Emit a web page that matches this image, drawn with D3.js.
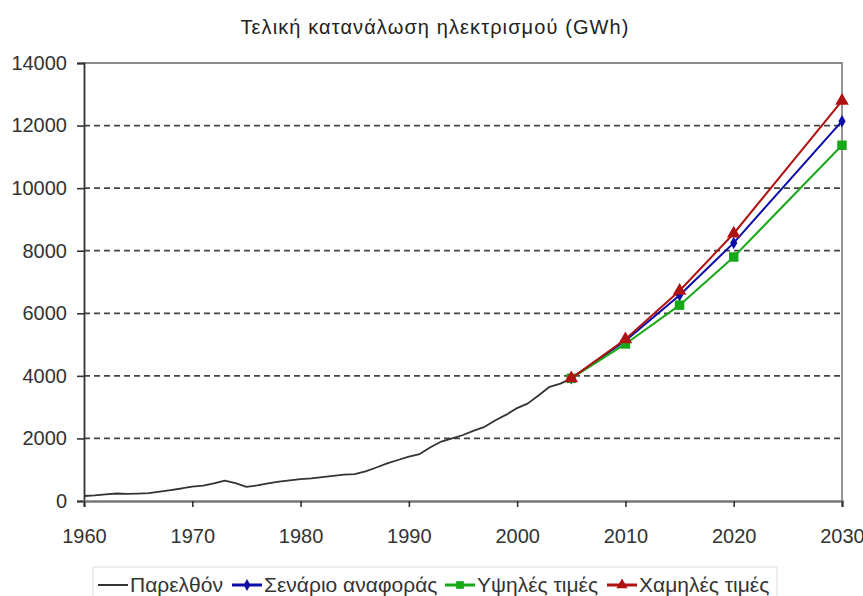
<!DOCTYPE html>
<meta charset="utf-8">
<style>
  body { margin: 0; background: #fff; }
  svg { font-family: "Liberation Sans", Arial, sans-serif; }
</style>
<script src="https://d3js.org/d3.v7.min.js"></script>
<div id="chart"></div>
<script>
// historic consumption (GWh)
var pastYears = [1960,1961,1962,1963,1964,1965,1966,1967,1968,1969,
                 1970,1971,1972,1973,1974,1975,1976,1977,1978,1979,
                 1980,1981,1982,1983,1984,1985,1986,1987,1988,1989,
                 1990,1991,1992,1993,1994,1995,1996,1997,1998,1999,
                 2000,2001,2002,2003,2004,2005];
var pastValues = [160,180,210,240,225,235,250,300,350,400,
                  460,490,560,650,570,450,500,560,620,660,
                  700,720,760,800,840,860,950,1070,1200,1310,
                  1420,1500,1720,1900,2000,2110,2250,2370,2580,2760,
                  2970,3120,3380,3650,3750,3920];

// scenarios
var scenarioYears = [2005, 2010, 2015, 2020, 2030];
var referenceValues = [3920, 5120, 6580, 8250, 12140];
var highPriceValues = [3920, 5020, 6260, 7800, 11370];
var lowPriceValues  = [3920, 5170, 6720, 8550, 12790];

var yTicks = [0, 2000, 4000, 6000, 8000, 10000, 12000, 14000];
var xTicks = [1960, 1970, 1980, 1990, 2000, 2010, 2020, 2030];

var seriesNames = ["Παρελθόν", "Σενάριο αναφοράς", "Υψηλές τιμές", "Χαμηλές τιμές"];
var title = "Τελική κατανάλωση ηλεκτρισμού (GWh)";

var width = 863, height = 596;
var plotLeft = 84, plotRight = 842, plotTop = 63, plotBottom = 501;

var svg = d3.select("#chart").append("svg")
    .attr("width", width)
    .attr("height", height);

var x = d3.scaleLinear().domain([1960, 2030]).range([plotLeft, plotRight]);
var y = d3.scaleLinear().domain([0, 14000]).range([plotBottom, plotTop]);

// title
svg.append("text")
    .attr("x", 435)
    .attr("y", 34)
    .attr("text-anchor", "middle")
    .attr("font-size", "20px")
    .attr("letter-spacing", "1.1px")
    .attr("fill", "#222")
    .text(title);

// dashed gridlines
svg.append("g")
  .selectAll("line")
  .data(yTicks.filter(function(d){ return d > 0 && d < 14000; }))
  .enter().append("line")
    .attr("x1", plotLeft).attr("x2", plotRight)
    .attr("y1", function(d){ return y(d); })
    .attr("y2", function(d){ return y(d); })
    .attr("stroke", "#444")
    .attr("stroke-width", 1.8)
    .attr("stroke-dasharray", "6,4");

// plot border top and right
svg.append("path")
    .attr("d", "M" + plotLeft + "," + plotTop + "H" + plotRight + "V" + plotBottom)
    .attr("fill", "none")
    .attr("stroke", "#666")
    .attr("stroke-width", 1.4);

// y axis
var yAxis = svg.append("g")
    .attr("transform", "translate(" + plotLeft + ",0)")
    .call(d3.axisLeft(y).tickValues(yTicks).tickSize(7).tickPadding(10).tickFormat(d3.format("d")));
// x axis
var xAxis = svg.append("g")
    .attr("transform", "translate(0," + plotBottom + ")")
    .call(d3.axisBottom(x).tickValues(xTicks).tickSize(6).tickPadding(22).tickFormat(d3.format("d")));

[yAxis, xAxis].forEach(function(a) {
  a.select(".domain").attr("stroke", "#333").attr("stroke-width", 1.8);
  a.selectAll(".tick line").attr("stroke", "#333").attr("stroke-width", 1.6);
  a.selectAll(".tick text").attr("font-size", "20px").attr("fill", "#333")
    .attr("font-family", "\"Liberation Sans\", Arial, sans-serif");
});
xAxis.select(".domain").attr("stroke", "#777").attr("stroke-width", 2.5);

var line = d3.line()
    .x(function(d){ return x(d[0]); })
    .y(function(d){ return y(d[1]); });

var pastData = d3.zip(pastYears, pastValues);
svg.append("path")
    .datum(pastData)
    .attr("d", line)
    .attr("fill", "none")
    .attr("stroke", "#333")
    .attr("stroke-width", 1.8)
    .attr("stroke-linejoin", "round");

var series = [
  {name: seriesNames[1], values: referenceValues, color: "#0c0ca8", symbol: d3.symbolDiamond, size: 45},
  {name: seriesNames[2], values: highPriceValues, color: "#17a817", symbol: d3.symbolSquare, size: 90},
  {name: seriesNames[3], values: lowPriceValues,  color: "#b01212", symbol: d3.symbolTriangle, size: 80}
];

series.forEach(function(s) {
  var data = d3.zip(scenarioYears, s.values);
  svg.append("path")
      .datum(data)
      .attr("d", line)
      .attr("fill", "none")
      .attr("stroke", s.color)
      .attr("stroke-width", 2);
  svg.append("g")
    .selectAll("path")
    .data(data)
    .enter().append("path")
      .attr("transform", function(d){ return "translate(" + x(d[0]) + "," + y(d[1]) + ")"; })
      .attr("d", d3.symbol().type(s.symbol).size(s.size))
      .attr("fill", s.color);
});

// legend
var legend = svg.append("g");
legend.append("rect")
    .attr("x", 93).attr("y", 567)
    .attr("width", 684).attr("height", 40)
    .attr("fill", "#fff")
    .attr("stroke", "#ddd");

var legendItems = [
  {name: seriesNames[0], color: "#333", symbol: null, x: 98},
  {name: seriesNames[1], color: series[0].color, symbol: series[0].symbol, size: 40, x: 232},
  {name: seriesNames[2], color: series[1].color, symbol: series[1].symbol, size: 60, x: 445},
  {name: seriesNames[3], color: series[2].color, symbol: series[2].symbol, size: 55, x: 607}
];

legendItems.forEach(function(it) {
  var g = legend.append("g").attr("transform", "translate(" + it.x + ",585)");
  g.append("line")
      .attr("x1", 0).attr("x2", 30)
      .attr("stroke", it.color)
      .attr("stroke-width", it.symbol ? 3 : 2);
  if (it.symbol) {
    g.append("path")
        .attr("transform", "translate(15,0)")
        .attr("d", d3.symbol().type(it.symbol).size(it.size))
        .attr("fill", it.color);
  }
  g.append("text")
      .attr("x", 32)
      .attr("y", 7)
      .attr("font-size", "21px")
      .attr("fill", "#333")
      .text(it.name);
});
</script>
